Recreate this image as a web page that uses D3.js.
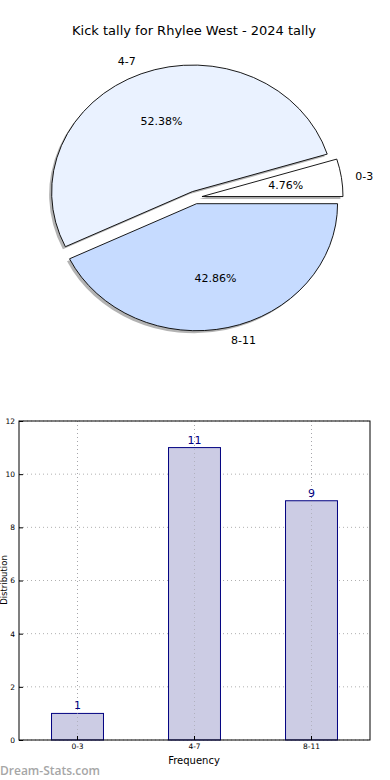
<!DOCTYPE html>
<html>
<head>
<meta charset="utf-8">
<script src="https://cdn.jsdelivr.net/npm/d3@7"></script>
<style>
  body { margin: 0; background: #fff; }
  svg { display: block; font-family: "DejaVu Sans", sans-serif; }
</style>
</head>
<body>
<svg id="chart" width="390" height="780"></svg>
<script>
// data
const categories = ["0-3", "4-7", "8-11"];
const counts = [1, 11, 9];
const sliceColors = ["#ffffff", "#eaf2ff", "#c6dbff"];
const yTicks = [0, 2, 4, 6, 8, 10, 12];
const titleText = "Kick tally for Rhylee West - 2024 tally";

const svg = d3.select("#chart");

// ---- pie (old matplotlib, not aspect-equal so it is an ellipse)
const cx = 195, cy = 197.5, rx = 141, ry = 127;
const explode = 0.05;

svg.append("text")
  .attr("x", 194).attr("y", 35)
  .attr("text-anchor", "middle")
  .style("font-size", "13px")
  .text(titleText);

// matplotlib starts at east and goes counter-clockwise
const pie = d3.pie().sort(null).value(d => d)
  .startAngle(Math.PI / 2).endAngle(Math.PI / 2 - 2 * Math.PI);
const arcs = pie(counts);
const arc = d3.arc().innerRadius(0).outerRadius(1);
const total = d3.sum(counts);

function mid(d) {
  // d3 angle: 0 = north, clockwise
  const a = (d.startAngle + d.endAngle) / 2;
  return [Math.sin(a), -Math.cos(a)];
}

const pieG = svg.append("g");

// shadows
pieG.selectAll("path.shadow")
  .data(arcs)
  .enter()
  .append("path")
  .attr("class", "shadow")
  .attr("transform", d => {
    const m = mid(d);
    return `translate(${cx + explode * m[0] * rx - 2.5}, ${cy + explode * m[1] * ry + 2.5}) scale(${rx}, ${ry})`;
  })
  .attr("d", arc)
  .attr("fill", "#999999")
  .attr("opacity", 0.75);

pieG.selectAll("path.slice")
  .data(arcs)
  .enter()
  .append("path")
  .attr("class", "slice")
  .attr("transform", d => {
    const m = mid(d);
    return `translate(${cx + explode * m[0] * rx}, ${cy + explode * m[1] * ry}) scale(${rx}, ${ry})`;
  })
  .attr("d", arc)
  .attr("fill", (d, i) => sliceColors[i])
  .attr("stroke", "#000")
  .attr("stroke-width", 0.9)
  .attr("vector-effect", "non-scaling-stroke");

// category labels at 1.1 r, pct at 0.6 r
pieG.selectAll("text.lab")
  .data(arcs)
  .enter()
  .append("text")
  .attr("class", "lab")
  .attr("x", d => cx + (1.1 + explode) * mid(d)[0] * rx)
  .attr("y", d => cy + (1.1 + explode) * mid(d)[1] * ry)
  .attr("dy", "0.35em")
  .attr("text-anchor", d => mid(d)[0] < 0 ? "end" : "start")
  .style("font-size", "11px")
  .text((d, i) => categories[i]);

pieG.selectAll("text.pct")
  .data(arcs)
  .enter()
  .append("text")
  .attr("class", "pct")
  .attr("x", d => cx + (0.6 + explode) * mid(d)[0] * rx)
  .attr("y", d => cy + (0.6 + explode) * mid(d)[1] * ry)
  .attr("dy", "0.35em")
  .attr("text-anchor", "middle")
  .style("font-size", "11px")
  .text(d => (d.value / total * 100).toFixed(2) + "%");

// ---- bar chart
const plotLeft = 19, plotRight = 370, plotTop = 421, plotBottom = 740;

const xScale = d3.scaleBand()
  .domain(categories)
  .range([plotLeft, plotRight])
  .paddingInner(0.556)
  .paddingOuter(0.278);

const yScale = d3.scaleLinear()
  .domain([0, 12])
  .range([plotBottom, plotTop]);

const chart = svg.append("g");

// grid
chart.selectAll("line.hgrid")
  .data(yTicks)
  .enter()
  .append("line")
  .attr("x1", plotLeft).attr("x2", plotRight)
  .attr("y1", d => yScale(d)).attr("y2", d => yScale(d))
  .attr("stroke", "#b0b0b0")
  .attr("stroke-dasharray", "1,3");

chart.selectAll("line.vgrid")
  .data(categories)
  .enter()
  .append("line")
  .attr("x1", d => xScale(d) + xScale.bandwidth() / 2)
  .attr("x2", d => xScale(d) + xScale.bandwidth() / 2)
  .attr("y1", plotTop).attr("y2", plotBottom)
  .attr("stroke", "#b0b0b0")
  .attr("stroke-dasharray", "1,3");

// bars
chart.selectAll("rect.bar")
  .data(counts)
  .enter()
  .append("rect")
  .attr("x", (d, i) => xScale(categories[i]))
  .attr("y", d => yScale(d))
  .attr("width", xScale.bandwidth())
  .attr("height", d => plotBottom - yScale(d))
  .attr("fill", "#cccce4")
  .attr("stroke", "#000080")
  .attr("stroke-width", 1);

// grid shows through the bars a bit
chart.selectAll("line.vgrid2")
  .data(categories)
  .enter()
  .append("line")
  .attr("x1", d => xScale(d) + xScale.bandwidth() / 2)
  .attr("x2", d => xScale(d) + xScale.bandwidth() / 2)
  .attr("y1", plotTop).attr("y2", plotBottom)
  .attr("stroke", "#a0a0a8")
  .attr("stroke-dasharray", "1,3")
  .attr("opacity", 0.6);

chart.selectAll("text.val")
  .data(counts)
  .enter()
  .append("text")
  .attr("x", (d, i) => xScale(categories[i]) + xScale.bandwidth() / 2)
  .attr("y", d => yScale(d) - 4)
  .attr("text-anchor", "middle")
  .attr("fill", "#000080")
  .style("font-size", "11px")
  .text(d => d);

// frame
chart.append("rect")
  .attr("x", plotLeft).attr("y", plotTop)
  .attr("width", plotRight - plotLeft).attr("height", plotBottom - plotTop)
  .attr("fill", "none")
  .attr("stroke", "#000")
  .attr("stroke-width", 1);

// axes
const yAxis = chart.append("g")
  .attr("transform", `translate(${plotLeft},0)`)
  .call(d3.axisLeft(yScale).tickValues(yTicks).tickSize(-4).tickPadding(4));
const xAxis = chart.append("g")
  .attr("transform", `translate(0,${plotBottom})`)
  .call(d3.axisBottom(xScale).tickSize(-4).tickPadding(4));
[yAxis, xAxis].forEach(a => {
  a.select(".domain").remove();
  a.selectAll("text").style("font-size", "7.5px").style("font-family", "DejaVu Sans");
});

svg.append("text")
  .attr("x", 194).attr("y", 764)
  .attr("text-anchor", "middle")
  .style("font-size", "10px")
  .text("Frequency");

svg.append("text")
  .attr("transform", "translate(7,580) rotate(-90)")
  .attr("text-anchor", "middle")
  .style("font-size", "8.5px")
  .text("Distribution");

svg.append("text")
  .attr("x", 0).attr("y", 775)
  .attr("fill", "#a6a6a6")
  .style("font-size", "12px")
  .style("font-weight", "600")
  .style("font-family", "Open Sans, DejaVu Sans, sans-serif")
  .text("Dream-Stats.com");
</script>
</body>
</html>
